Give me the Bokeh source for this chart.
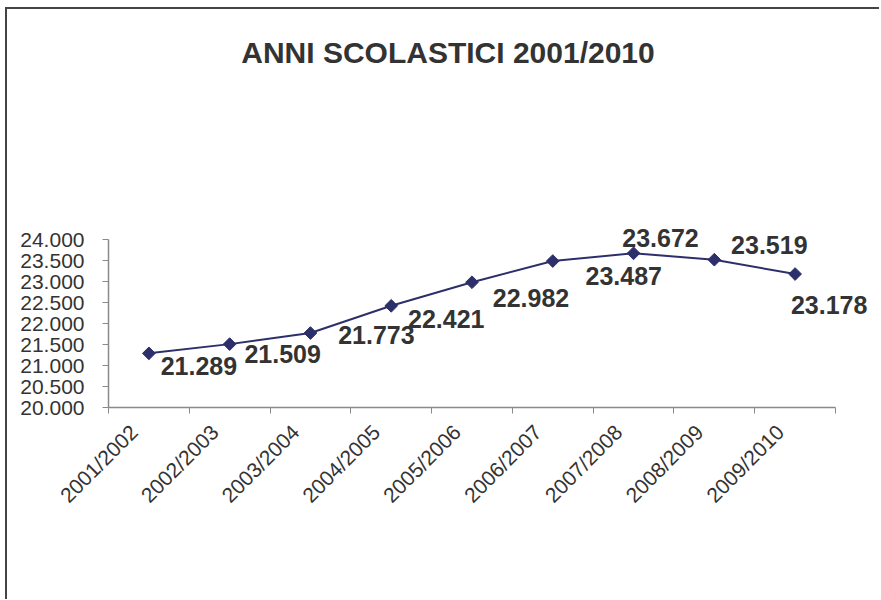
import math
from bokeh.plotting import figure
from bokeh.models import FixedTicker, LabelSet, Label, ColumnDataSource, Range1d, CustomJSTickFormatter
from bokeh.core.properties import value
from bokeh.embed import file_html
from bokeh.resources import INLINE

# ---- data ----
categories = ["2001/2002", "2002/2003", "2003/2004", "2004/2005", "2005/2006",
              "2006/2007", "2007/2008", "2008/2009", "2009/2010"]
values = [21289, 21509, 21773, 22421, 22982, 23487, 23672, 23519, 23178]
value_labels = ["21.289", "21.509", "21.773", "22.421", "22.982",
                "23.487", "23.672", "23.519", "23.178"]
y_ticks = [20000, 20500, 21000, 21500, 22000, 22500, 23000, 23500, 24000]
y_tick_labels = ["20.000", "20.500", "21.000", "21.500", "22.000",
                 "22.500", "23.000", "23.500", "24.000"]
title_text = "ANNI SCOLASTICI 2001/2010"

# label placement (screen pixel offsets from each point, as in the original)
label_dx = [50, 53, 66, 55, 59, 71, 27, 55, 34]
label_dy = [13, 10, 1.5, 13.5, 16, 15, -15, -15, 31]

n = len(categories)
xs = [2 * i + 1 for i in range(n)]          # category centres
bounds = [2 * i for i in range(n + 1)]      # category boundaries

FONT = "Arial"
LINE = "#2d2f6b"
AXIS = "#8a8a8a"
TXT = "#333333"

# geometry (pixels)
AX_W, AX_H = 727, 168            # axis extent
LEFT, BOTTOM = 101, 192
FW, FH = 771, 398                # frame (extends to the top / right of canvas)
x_end = 2 * n * FW / AX_W
y_end = 20000 + 4000 * FH / AX_H
LABEL_SHIFT = 15 * 2 * n / AX_W  # rotated labels end left of the category centre

p = figure(frame_width=FW, frame_height=FH,
           min_border_left=LEFT, min_border_right=0,
           min_border_top=0, min_border_bottom=BOTTOM,
           x_range=Range1d(0, x_end), y_range=Range1d(20000, y_end),
           output_backend="svg", toolbar_location=None)
p.styles = {"margin-left": "5px", "margin-top": "7px",
            "border-top": "2px solid #444444", "border-left": "2px solid #444444"}

p.outline_line_color = None
p.xgrid.grid_line_color = None
p.ygrid.grid_line_color = None
p.background_fill_color = "white"
p.border_fill_color = "white"

# x axis
xa = p.xaxis[0]
xa.bounds = (0, 2 * n)
xa.ticker = FixedTicker(ticks=[x - LABEL_SHIFT for x in xs], minor_ticks=bounds)
xa.formatter = CustomJSTickFormatter(args=dict(cats=categories, shift=LABEL_SHIFT),
                                     code="return cats[Math.round((tick + shift - 1) / 2)];")
xa.major_tick_out = 0
xa.major_tick_in = 0
xa.minor_tick_out = 6
xa.minor_tick_in = 0
xa.minor_tick_line_color = AXIS
xa.axis_line_color = AXIS
xa.axis_line_width = 1.5
xa.major_label_orientation = math.pi / 4
xa.major_label_text_font = FONT
xa.major_label_text_font_size = "21px"
xa.major_label_text_color = TXT
xa.major_label_standoff = 15

# y axis
ya = p.yaxis[0]
ya.bounds = (20000, 24000)
ya.ticker = FixedTicker(ticks=y_ticks)
ya.major_label_overrides = {t: l for t, l in zip(y_ticks, y_tick_labels)}
ya.minor_tick_line_color = None
ya.major_tick_out = 6
ya.major_tick_in = 0
ya.major_tick_line_color = AXIS
ya.axis_line_color = AXIS
ya.axis_line_width = 1.5
ya.major_label_text_font = FONT
ya.major_label_text_font_size = "21px"
ya.major_label_text_color = TXT
ya.major_label_standoff = 18

src = ColumnDataSource(dict(x=xs, y=values, lab=value_labels,
                            dx=label_dx, dy=[-d for d in label_dy]))

p.line("x", "y", source=src, line_color=LINE, line_width=2)
p.scatter("x", "y", source=src, marker="square", size=9, angle=math.pi / 4,
          fill_color=LINE, line_color=LINE)

labels = LabelSet(x="x", y="y", text="lab", source=src,
                  x_offset="dx", y_offset="dy",
                  text_align="center", text_baseline="middle",
                  text_font=value(FONT), text_font_size="25px", text_font_style="bold",
                  text_color=TXT)
p.add_layout(labels)

# title, positioned relative to the frame (screen px: from frame left / bottom)
title = Label(x=447.5 - 108, y=407 - 52, x_units="screen", y_units="screen",
              text=title_text, text_align="center", text_baseline="middle",
              text_font=FONT, text_font_size="30px", text_font_style="bold",
              text_color=TXT)
p.add_layout(title)

open("out.html", "w").write(file_html(p, INLINE))
